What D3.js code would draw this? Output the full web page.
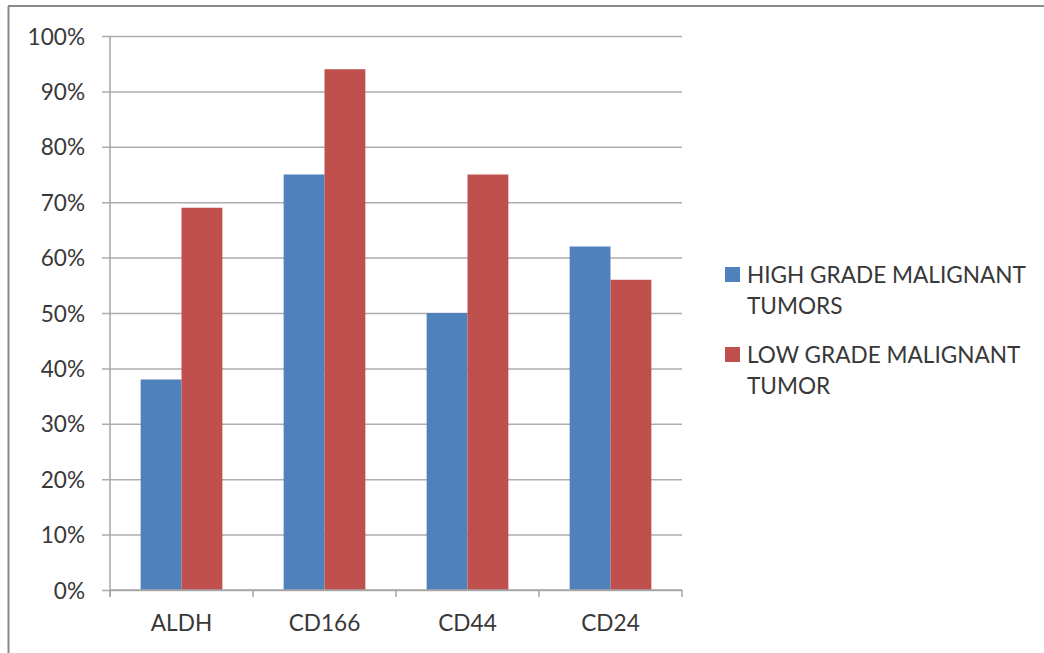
<!DOCTYPE html>
<html>
<head>
<meta charset="utf-8">
<script src="https://cdn.jsdelivr.net/npm/d3@7"></script>
<style>
  html, body { margin: 0; padding: 0; background: #fff; }
  svg { display: block; }
  text { font-family: Lato, "Liberation Sans", Arial, sans-serif; fill: #383838; }
</style>
</head>
<body>
<svg id="chart" width="1044" height="653"></svg>
<script>
// Marker expression by tumour grade
const categories = ["ALDH", "CD166", "CD44", "CD24"];
const seriesNames = ["HIGH GRADE MALIGNANT TUMORS", "LOW GRADE MALIGNANT TUMOR"];
const legendLines = [["HIGH GRADE MALIGNANT", "TUMORS"], ["LOW GRADE MALIGNANT", "TUMOR"]];
const highGrade = [38, 75, 50, 62];
const lowGrade = [69, 94, 75, 56];
const yTicks = [0, 10, 20, 30, 40, 50, 60, 70, 80, 90, 100];
const colors = ["#4F81BD", "#C0504D"];

const series = [highGrade, lowGrade];

const svg = d3.select("#chart");
const W = 1044, H = 653;
const fontSize = "22.6px";

// outer frame (top and left edges)
svg.append("line").attr("x1", 8).attr("x2", W).attr("y1", 6).attr("y2", 6)
  .attr("stroke", "#8a8a8a").attr("stroke-width", 2);
svg.append("line").attr("x1", 8.5).attr("x2", 8.5).attr("y1", 6).attr("y2", H)
  .attr("stroke", "#8a8a8a").attr("stroke-width", 2);

const plot = { left: 110, right: 682, top: 36, bottom: 590 };

const x = d3.scaleBand().domain(categories)
  .range([plot.left, plot.right]).paddingInner(0).paddingOuter(0);
const y = d3.scaleLinear().domain([0, 100]).range([plot.bottom, plot.top]);

// group width: two bars with a 150% gap
const barW = x.bandwidth() / 3.5;
const xs = d3.scaleBand().domain(d3.range(series.length))
  .range([0, barW * 2]);

// gridlines + y axis
const yAxis = d3.axisLeft(y).tickValues(yTicks)
  .tickFormat(d => d + "%")
  .tickSize(-(plot.right - plot.left)).tickPadding(16);
const gy = svg.append("g").attr("transform", `translate(${plot.left},0)`).call(yAxis);
gy.select(".domain").remove();
gy.selectAll(".tick line").attr("stroke", "#adadad").attr("stroke-width", 1.5)
  .attr("x1", -8);
gy.selectAll(".tick text").style("font-size", fontSize).attr("dy", "0.36em")
  .attr("x", -25);

// bars
const groups = svg.append("g").selectAll("g")
  .data(categories).join("g")
  .attr("transform", d => `translate(${x(d) + (x.bandwidth() - barW * 2) / 2},0)`);
groups.selectAll("rect")
  .data((d, i) => series.map((s, k) => ({ k, v: s[i] })))
  .join("rect")
  .attr("x", d => xs(d.k))
  .attr("width", xs.bandwidth())
  .attr("y", d => y(d.v))
  .attr("height", d => y(0) - y(d.v))
  .attr("fill", d => colors[d.k]);

// vertical axis line
svg.append("line").attr("x1", plot.left).attr("x2", plot.left)
  .attr("y1", plot.top).attr("y2", plot.bottom + 7)
  .attr("stroke", "#a6a6a6").attr("stroke-width", 1.5);

// category axis
const xAxis = d3.axisBottom(x).tickSize(0).tickPadding(25);
const gx = svg.append("g").attr("transform", `translate(0,${plot.bottom})`).call(xAxis);
gx.select(".domain").attr("stroke", "#a6a6a6").attr("stroke-width", 1.5)
  .attr("d", `M${plot.left},0H${plot.right}`);
gx.selectAll(".tick text").style("font-size", fontSize).attr("dy", "0.71em");
// tick marks at category boundaries
const bounds = categories.map(c => x(c)).concat([plot.right]);
gx.selectAll(".bound").data(bounds).join("line").attr("class", "bound")
  .attr("x1", d => d).attr("x2", d => d).attr("y1", 0).attr("y2", 7)
  .attr("stroke", "#a6a6a6").attr("stroke-width", 1.5);

// legend
const legend = svg.append("g").attr("transform", "translate(725,0)");
const legendRowY = [267, 347];
seriesNames.forEach((name, k) => {
  const row = legend.append("g").attr("transform", `translate(0,${legendRowY[k]})`);
  row.append("rect").attr("width", 15).attr("height", 15).attr("fill", colors[k]);
  const t = row.append("text").attr("x", 22).attr("y", 16).style("font-size", fontSize);
  legendLines[k].forEach((line, j) => {
    t.append("tspan").attr("x", 22).attr("dy", j === 0 ? 0 : 31).text(line);
  });
});
</script>
</body>
</html>
